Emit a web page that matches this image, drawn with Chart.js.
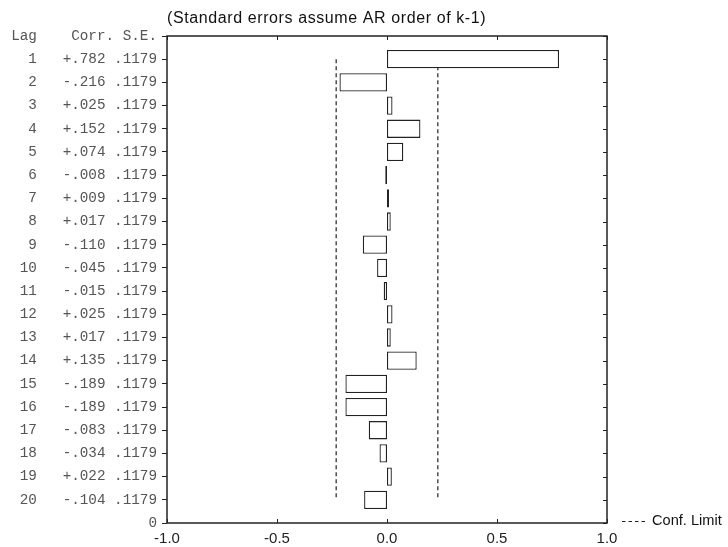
<!DOCTYPE html>
<html>
<head>
<meta charset="utf-8">
<script src="https://cdn.jsdelivr.net/npm/chart.js@4.4.1/dist/chart.umd.min.js"></script>
<style>
  html, body { margin: 0; padding: 0; background: #fff; }
</style>
</head>
<body>
<canvas id="pacfChart" width="728" height="547"></canvas>
<script>
// Partial autocorrelation table
const lags = [1, 2, 3, 4, 5, 6, 7, 8, 9, 10, 11, 12, 13, 14, 15, 16, 17, 18, 19, 20];
const corrValues = [0.782, -0.216, 0.025, 0.152, 0.074, -0.008, 0.009, 0.017, -0.110, -0.045,
                    -0.015, 0.025, 0.017, 0.135, -0.189, -0.189, -0.083, -0.034, 0.022, -0.104];
const seValues = [0.1179, 0.1179, 0.1179, 0.1179, 0.1179, 0.1179, 0.1179, 0.1179, 0.1179, 0.1179,
                  0.1179, 0.1179, 0.1179, 0.1179, 0.1179, 0.1179, 0.1179, 0.1179, 0.1179, 0.1179];
const confLimit = 0.231;
const headerCols = ['Lag', 'Corr.', 'S.E.'];
const chartTitle = '(Standard errors assume AR order of k-1)';
const legendLabel = 'Conf. Limit';

const sansFont = '"Liberation Sans", Arial, sans-serif';
const monoFont = '"Liberation Mono", "Courier New", monospace';

function fmtCorr(v) {
    return (v < 0 ? '-' : '+') + Math.abs(v).toFixed(3).replace(/^0/, '');
}

function rowLabel(i) {
    return String(lags[i]).padStart(3) + '   ' + fmtCorr(corrValues[i]) + ' ' + seValues[i].toFixed(4).replace(/^0/, '');
}

const headerLabel = headerCols[0] + '    ' + headerCols[1] + ' ' + headerCols[2];

// frame with inward ticks, title and the little legend
const framePlugin = {
    id: 'frame',
    afterDatasetsDraw(chart) {
        const { ctx, chartArea: a, scales } = chart;
        ctx.save();
        ctx.strokeStyle = '#222';
        ctx.lineWidth = 1.5;
        ctx.strokeRect(a.left, a.top, a.right - a.left, a.bottom - a.top);

        ctx.lineWidth = 1;
        ctx.beginPath();
        scales.x.ticks.forEach(t => {
            const px = Math.round(scales.x.getPixelForValue(t.value)) + 0.5;
            ctx.moveTo(px, a.bottom); ctx.lineTo(px, a.bottom - 4);
            ctx.moveTo(px, a.top); ctx.lineTo(px, a.top + 4);
        });
        scales.y.ticks.forEach(t => {
            const py = Math.round(scales.y.getPixelForValue(t.value)) + 0.5;
            ctx.moveTo(a.right, py); ctx.lineTo(a.right - 4, py);
        });
        ctx.stroke();

        ctx.fillStyle = '#111';
        ctx.font = '16px ' + sansFont;
        ctx.textBaseline = 'middle';
        ctx.textAlign = 'left';
        ctx.letterSpacing = '0.6px';
        ctx.fillText(chartTitle, 167, 19);
        ctx.letterSpacing = '0px';

        // legend
        ctx.setLineDash([3.5, 3]);
        ctx.beginPath();
        ctx.moveTo(622, 521.5); ctx.lineTo(648, 521.5);
        ctx.stroke();
        ctx.setLineDash([]);
        ctx.font = '14.6px ' + sansFont;
        ctx.fillText(legendLabel, 652, 521);
        ctx.restore();
    }
};

const ctx = document.getElementById('pacfChart').getContext('2d');

new Chart(ctx, {
    type: 'bar',
    data: {
        datasets: [
            {
                label: 'Corr.',
                data: lags.map((lag, i) => ({ x: corrValues[i], y: lag })),
                backgroundColor: '#ffffff',
                borderColor: '#222',
                borderWidth: 1.3,
                borderSkipped: false,
                categoryPercentage: 1,
                barPercentage: 0.79
            },
            {
                type: 'line',
                label: 'Conf. Limit',
                data: [{ x: -confLimit, y: lags[0] }, { x: -confLimit, y: lags[lags.length - 1] }],
                borderColor: '#333',
                borderWidth: 1.3,
                borderDash: [4, 3],
                pointRadius: 0,
                fill: false
            },
            {
                type: 'line',
                label: 'Conf. Limit +',
                data: [{ x: confLimit, y: lags[0] }, { x: confLimit, y: lags[lags.length - 1] }],
                borderColor: '#333',
                borderWidth: 1.3,
                borderDash: [4, 3],
                pointRadius: 0,
                fill: false
            }
        ]
    },
    options: {
        indexAxis: 'y',
        responsive: false,
        animation: false,
        layout: { padding: { top: 36, right: 121, left: 0, bottom: 0 } },
        plugins: {
            legend: { display: false },
            tooltip: { enabled: false },
            title: { display: false }
        },
        scales: {
            x: {
                type: 'linear',
                position: 'bottom',
                min: -1,
                max: 1,
                grid: { display: false, drawTicks: false },
                border: { display: false },
                ticks: {
                    stepSize: 0.5,
                    padding: 7,
                    color: '#222',
                    font: { family: sansFont, size: 15 },
                    callback: v => v.toFixed(1)
                },
                afterFit: s => { s.height = 24; }
            },
            y: {
                type: 'linear',
                reverse: true,
                offset: false,
                min: 0,
                max: lags.length + 1,
                grid: { offset: false, drawOnChartArea: false, drawTicks: true, tickLength: 5, color: '#222', lineWidth: 1 },
                border: { display: false },
                ticks: {
                    stepSize: 1,
                    autoSkip: false,
                    padding: 5,
                    color: '#555',
                    font: { family: monoFont, size: 14.3 },
                    callback: v => {
                        if (v === 0) return headerLabel;
                        if (v === lags.length + 1) return '0';
                        return rowLabel(v - 1);
                    }
                },
                afterFit: s => { s.width = 167; }
            }
        }
    },
    plugins: [framePlugin]
});
</script>
</body>
</html>
